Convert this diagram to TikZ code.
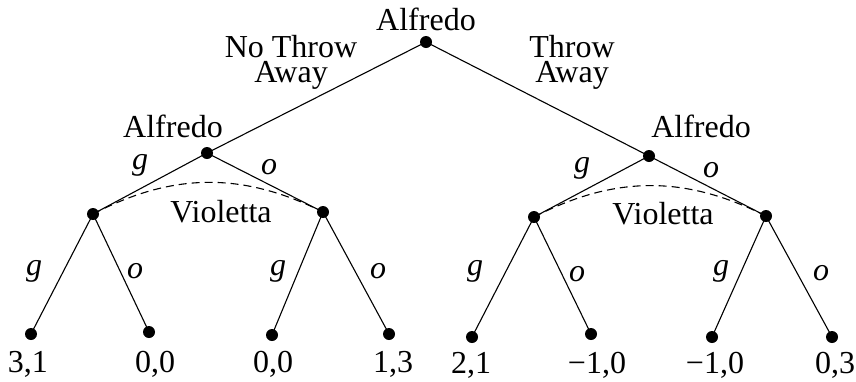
\documentclass[tikz,border=0pt]{standalone}
\usepackage{fontspec}
\setmainfont{Liberation Serif}
\begin{document}
\begin{tikzpicture}[x=1pt,y=-1pt,
  dot/.style={circle,fill=black,inner sep=0pt,minimum size=12pt},
  lbl/.style={anchor=base,inner sep=0pt,font=\fontsize{32}{25}\selectfont},
  mlbl/.style={anchor=base,inner sep=0pt,align=center,font=\fontsize{32}{25}\selectfont},
  act/.style={anchor=base,inner sep=0pt,font=\fontsize{32}{25}\selectfont\itshape},
  edge/.style={line width=1.1pt},
  info/.style={line width=1.1pt,dash pattern=on 8pt off 5pt}]
\useasboundingbox (0,0) rectangle (856,381);
% decision nodes
\node[dot] (r) at (426,42) {};
\node[dot] (a) at (207,153) {};
\node[dot] (b) at (649,156) {};
\node[dot] (v1) at (93,214) {};
\node[dot] (v2) at (323,212) {};
\node[dot] (v3) at (534,217) {};
\node[dot] (v4) at (766,216) {};
% leaves
\node[dot] (t1) at (31,334) {};
\node[dot] (t2) at (149,332) {};
\node[dot] (t3) at (272,335) {};
\node[dot] (t4) at (389,334) {};
\node[dot] (t5) at (472,337) {};
\node[dot] (t6) at (591,334) {};
\node[dot] (t7) at (712,337) {};
\node[dot] (t8) at (832,337) {};
% edges
\draw[edge] (r.center) -- (a.center);
\draw[edge] (r.center) -- (b.center);
\draw[edge] (a.center) -- (v1.center);
\draw[edge] (a.center) -- (v2.center);
\draw[edge] (b.center) -- (v3.center);
\draw[edge] (b.center) -- (v4.center);
\draw[edge] (v1.center) -- (t1.center);
\draw[edge] (v1.center) -- (t2.center);
\draw[edge] (v2.center) -- (t3.center);
\draw[edge] (v2.center) -- (t4.center);
\draw[edge] (v3.center) -- (t5.center);
\draw[edge] (v3.center) -- (t6.center);
\draw[edge] (v4.center) -- (t7.center);
\draw[edge] (v4.center) -- (t8.center);
% information sets
\draw[info] (v1.center) to[bend left=27] (v2.center);
\draw[info] (v3.center) to[bend left=27] (v4.center);
% player labels
\node[lbl] (pr) at (426,30) {Alfredo};
\node[lbl] (pa) at (173,137) {Alfredo};
\node[lbl] (pb) at (701,137) {Alfredo};
\node[lbl] (pv1) at (221,222) {Violetta};
\node[lbl] (pv2) at (663,224) {Violetta};
% first move labels
\node[mlbl] (nt) at (291,82) {No Throw\\Away};
\node[mlbl] (ta) at (572,82) {Throw\\Away};
% action labels
\node[act] (ga) at (140,169) {g};
\node[act] (oa) at (269,174) {o};
\node[act] (gb) at (582,172) {g};
\node[act] (ob) at (711,177) {o};
\node[act] (g1) at (34,275) {g};
\node[act] (o1) at (135,278) {o};
\node[act] (g2) at (278,275) {g};
\node[act] (o2) at (378,278) {o};
\node[act] (g3) at (475,275) {g};
\node[act] (o3) at (577,281) {o};
\node[act] (g4) at (721,275) {g};
\node[act] (o4) at (821,280) {o};
% payoffs
\node[lbl] (p1) at (28,372) {3,1};
\node[lbl] (p2) at (155,372) {0,0};
\node[lbl] (p3) at (273,372) {0,0};
\node[lbl] (p4) at (393,372) {1,3};
\node[lbl] (p5) at (471,373) {2,1};
\node[lbl] (p6) at (597,373) {\textminus1,0};
\node[lbl] (p7) at (715,373) {\textminus1,0};
\node[lbl] (p8) at (835,373) {0,3};
\end{tikzpicture}
\end{document}
